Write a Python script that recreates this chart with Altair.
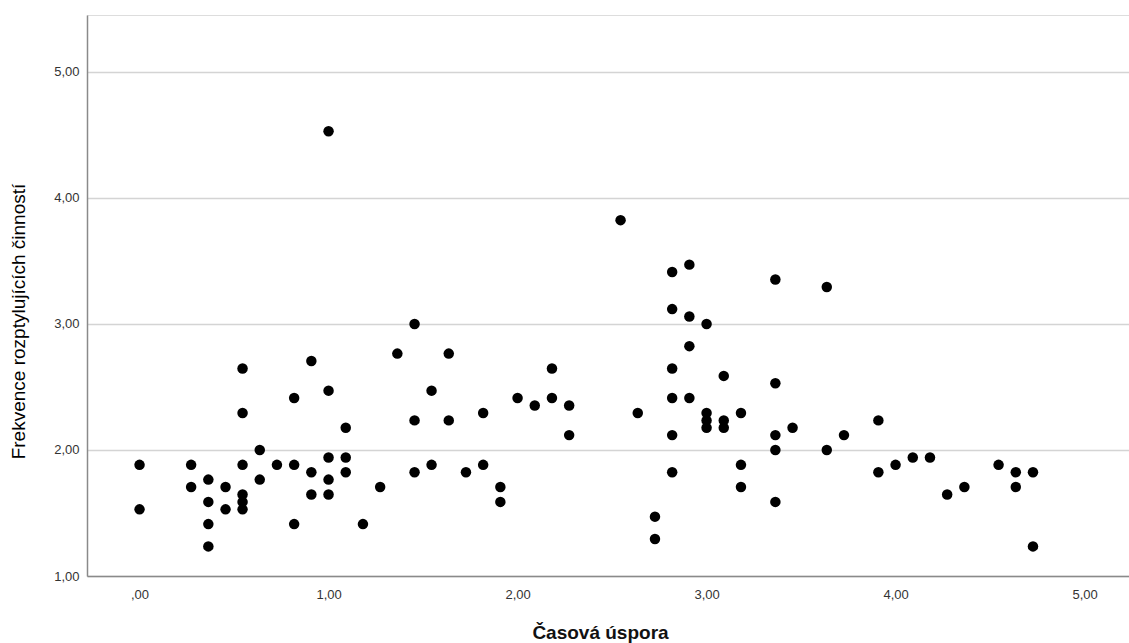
import altair as alt
import pandas as pd

# Časová úspora (x) and Frekvence rozptylujících činností (y)
casova_uspora = [
    0.000, 0.000,
    0.273, 0.273,
    0.364, 0.364, 0.364, 0.364,
    0.455, 0.455,
    0.545, 0.545, 0.545, 0.545, 0.545, 0.545,
    0.636, 0.636,
    0.727,
    0.818, 0.818, 0.818,
    0.909, 0.909, 0.909,
    1.000, 1.000, 1.000, 1.000, 1.000,
    1.091, 1.091, 1.091,
    1.182,
    1.273,
    1.364,
    1.455, 1.455, 1.455,
    1.545, 1.545,
    1.636, 1.636,
    1.727,
    1.818, 1.818,
    1.909, 1.909,
    2.000,
    2.091,
    2.182, 2.182,
    2.273, 2.273,
    2.545,
    2.636,
    2.727, 2.727,
    2.818, 2.818, 2.818, 2.818, 2.818, 2.818,
    2.909, 2.909, 2.909, 2.909,
    3.000, 3.000, 3.000, 3.000,
    3.091, 3.091, 3.091,
    3.182, 3.182, 3.182,
    3.364, 3.364, 3.364, 3.364, 3.364,
    3.455,
    3.636, 3.636,
    3.727,
    3.909, 3.909,
    4.000,
    4.091,
    4.182,
    4.273,
    4.364,
    4.545,
    4.636, 4.636,
    4.727, 4.727,
]
frekvence = [
    1.882, 1.529,
    1.882, 1.706,
    1.765, 1.588, 1.412, 1.235,
    1.706, 1.529,
    2.647, 2.294, 1.882, 1.647, 1.588, 1.529,
    2.000, 1.765,
    1.882,
    2.412, 1.882, 1.412,
    2.706, 1.824, 1.647,
    4.529, 2.471, 1.941, 1.765, 1.647,
    2.176, 1.941, 1.824,
    1.412,
    1.706,
    2.765,
    3.000, 2.235, 1.824,
    2.471, 1.882,
    2.765, 2.235,
    1.824,
    2.294, 1.882,
    1.706, 1.588,
    2.412,
    2.353,
    2.647, 2.412,
    2.353, 2.118,
    3.824,
    2.294,
    1.471, 1.294,
    3.412, 3.118, 2.647, 2.412, 2.118, 1.824,
    3.471, 3.059, 2.824, 2.412,
    3.000, 2.294, 2.235, 2.176,
    2.588, 2.235, 2.176,
    2.294, 1.882, 1.706,
    3.353, 2.529, 2.118, 2.000, 1.588,
    2.176,
    3.294, 2.000,
    2.118,
    2.235, 1.824,
    1.882,
    1.941,
    1.941,
    1.647,
    1.706,
    1.882,
    1.824, 1.706,
    1.824, 1.235,
]
x_ticks = [0, 1, 2, 3, 4, 5]
y_ticks = [1, 2, 3, 4, 5]

df = pd.DataFrame({"x": casova_uspora, "y": frekvence})

label_expr = "datum.value == 0 ? ',00' : replace(format(datum.value, '.2f'), '.', ',')"
font = "Liberation Sans"

chart = alt.Chart(df).mark_circle(size=110, color="black", opacity=1).encode(
    x=alt.X(
        "x:Q",
        scale=alt.Scale(domain=[-0.278, 5.235], nice=False, zero=False),
        axis=alt.Axis(
            values=x_ticks,
            labelExpr=label_expr,
            grid=False,
            ticks=False,
            domainColor="#8a8a8a",
            domainWidth=1.5,
            labelFont=font,
            labelFontSize=13,
            labelColor="#333333",
            labelPadding=12,
            title="Časová úspora",
            titleFont=font,
            titleFontSize=19,
            titleFontWeight="bold",
            titleColor="#111111",
            titleX=513,
            titleY=56,
            titleBaseline="middle",
        ),
    ),
    y=alt.Y(
        "y:Q",
        scale=alt.Scale(domain=[1, 5.452], nice=False, zero=False),
        axis=alt.Axis(
            values=y_ticks,
            labelExpr=label_expr,
            grid=True,
            gridColor="#d4d4d4",
            gridWidth=1.5,
            ticks=False,
            domainColor="#8a8a8a",
            domainWidth=1.5,
            labelFont=font,
            labelFontSize=13,
            labelColor="#333333",
            labelPadding=8,
            title="Frekvence rozptylujících činností",
            titleFont=font,
            titleFontSize=19,
            titleFontWeight="normal",
            titleColor="#000000",
            titleAngle=-90,
            titleX=-69,
            titleY=306,
            titleBaseline="middle",
            titleAlign="center",
        ),
    ),
).properties(
    width=1042,
    height=561,
    padding={"left": 87, "top": 15, "right": 0, "bottom": 67},
    autosize=alt.AutoSizeParams(type="none"),
).configure_view(stroke=None).configure(background="white")

chart.save("out.html", embed_options={"renderer": "svg", "actions": False})
